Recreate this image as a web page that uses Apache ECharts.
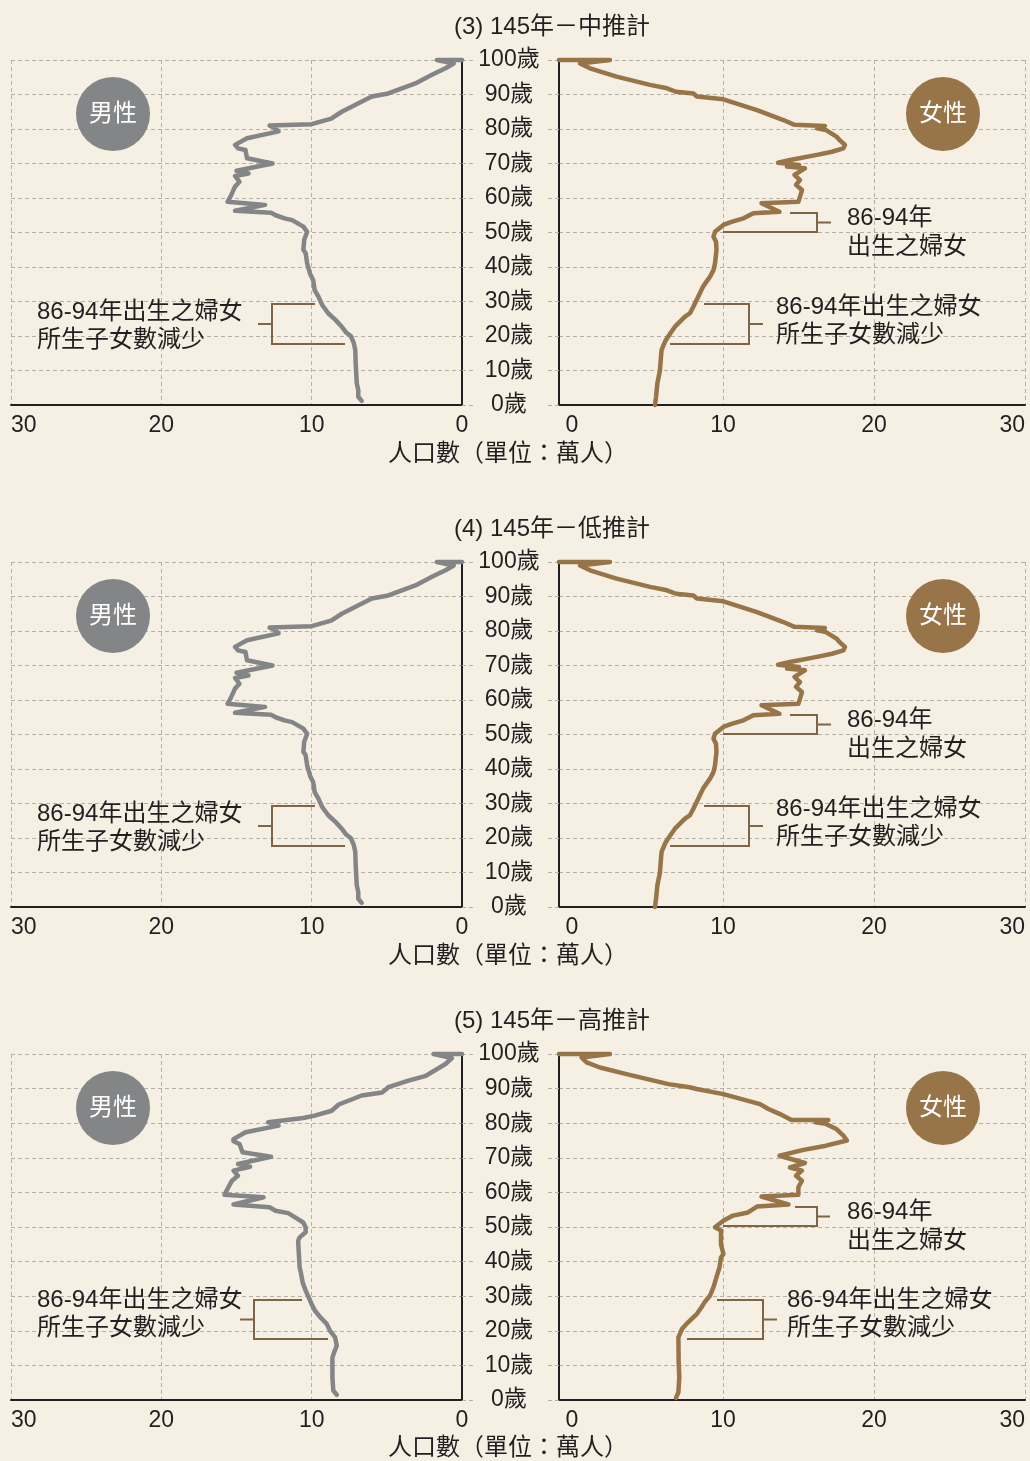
<!DOCTYPE html>
<html>
<head>
<meta charset="utf-8">
<script src="https://cdn.jsdelivr.net/npm/echarts@6/dist/echarts.min.js"></script>
<style>
html, body { margin: 0; padding: 0; background: #f6efe3; }
#chart { width: 1030px; height: 1461px; }
</style>
</head>
<body>
<div id="chart"></div>
<script>
// [age, 萬人], bottom to top
const maleMid = [[1.2,6.67],[2.4,6.9],[4.3,6.9],[6.3,7.0],[12,7.07],[16,7.1],[18,7.2],[20,7.4],[21,7.7],[22.7,8.0],[24.6,8.4],[26.6,8.9],[29,9.3],[31.4,9.55],[33.3,9.8],[36.2,9.9],[38,10.1],[41,10.3],[44,10.4],[45,10.55],[47.8,10.5],[50.2,10.3],[51.7,10.55],[53.6,11.3],[54.1,11.8],[55,12.4],[55.7,12.7],[56.3,15.1],[58,13.1],[58.9,15.6],[60.4,15.4],[63.3,15.1],[64.7,14.8],[66.4,15.1],[67.1,14.2],[67.9,15.0],[70,12.6],[71.5,14.3],[73.9,14.4],[74.4,14.9],[75.4,15.1],[77.3,14.3],[79.3,12.2],[80.5,12.5],[81,12.8],[81.4,10.0],[83,8.7],[85,8.0],[89.4,6.0],[90.3,4.9],[91.8,4.0],[93.2,3.1],[95.7,2.0],[97.6,1.1],[99,0.55],[100,1.67],[100,0]];
const femaleMid = [[0,6.4],[2.4,6.47],[6.3,6.56],[10,6.73],[14,6.8],[16,6.84],[18.4,7.07],[20,7.3],[22.7,7.73],[25.6,8.4],[26.6,8.73],[28.5,8.96],[34.3,9.6],[37.2,10.07],[39.1,10.3],[41,10.4],[44.9,10.5],[47.3,10.47],[48.8,10.3],[50.2,10.4],[52.2,10.96],[53.1,11.5],[54.1,12.3],[55.6,12.96],[56,14.7],[58.5,13.5],[58.9,15.96],[60.4,16.07],[62.3,16.2],[63.8,15.8],[65.2,16.07],[66.7,15.7],[68.6,16.4],[69.1,15.2],[69.6,16.0],[70.2,14.6],[71,15.4],[72.5,17.2],[73.4,18.2],[74.4,18.96],[75.4,19.07],[76.8,18.7],[77.8,18.5],[79.7,17.8],[80.2,17.2],[80.9,17.73],[81.2,15.7],[82.6,14.96],[85.5,13.2],[88.6,10.96],[89.4,9.2],[90.3,8.96],[90.8,7.8],[91.8,7.2],[92.8,6.07],[95.2,3.84],[97.6,2.07],[99,1.4],[100,3.4],[100,0]];
// low projection reads the same as the medium one in the picture
const maleLow = [[1.2,6.67],[2.4,6.9],[4.3,6.9],[6.3,7.0],[12,7.07],[16,7.1],[18,7.2],[20,7.4],[21,7.7],[22.7,8.0],[24.6,8.4],[26.6,8.9],[29,9.3],[31.4,9.55],[33.3,9.8],[36.2,9.9],[38,10.1],[41,10.3],[44,10.4],[45,10.55],[47.8,10.5],[50.2,10.3],[51.7,10.55],[53.6,11.3],[54.1,11.8],[55,12.4],[55.7,12.7],[56.3,15.1],[58,13.1],[58.9,15.6],[60.4,15.4],[63.3,15.1],[64.7,14.8],[66.4,15.1],[67.1,14.2],[67.9,15.0],[70,12.6],[71.5,14.3],[73.9,14.4],[74.4,14.9],[75.4,15.1],[77.3,14.3],[79.3,12.2],[80.5,12.5],[81,12.8],[81.4,10.0],[83,8.7],[85,8.0],[89.4,6.0],[90.3,4.9],[91.8,4.0],[93.2,3.1],[95.7,2.0],[97.6,1.1],[99,0.55],[100,1.67],[100,0]];
const femaleLow = [[0,6.4],[2.4,6.47],[6.3,6.56],[10,6.73],[14,6.8],[16,6.84],[18.4,7.07],[20,7.3],[22.7,7.73],[25.6,8.4],[26.6,8.73],[28.5,8.96],[34.3,9.6],[37.2,10.07],[39.1,10.3],[41,10.4],[44.9,10.5],[47.3,10.47],[48.8,10.3],[50.2,10.4],[52.2,10.96],[53.1,11.5],[54.1,12.3],[55.6,12.96],[56,14.7],[58.5,13.5],[58.9,15.96],[60.4,16.07],[62.3,16.2],[63.8,15.8],[65.2,16.07],[66.7,15.7],[68.6,16.4],[69.1,15.2],[69.6,16.0],[70.2,14.6],[71,15.4],[72.5,17.2],[73.4,18.2],[74.4,18.96],[75.4,19.07],[76.8,18.7],[77.8,18.5],[79.7,17.8],[80.2,17.2],[80.9,17.73],[81.2,15.7],[82.6,14.96],[85.5,13.2],[88.6,10.96],[89.4,9.2],[90.3,8.96],[90.8,7.8],[91.8,7.2],[92.8,6.07],[95.2,3.84],[97.6,2.07],[99,1.4],[100,3.4],[100,0]];
const maleHigh = [[1.5,8.33],[2.7,8.56],[6.5,8.62],[12.3,8.62],[13.8,8.5],[15.7,8.33],[18.1,8.44],[20,8.78],[22,9.0],[24,9.44],[25.8,9.78],[27.7,10.0],[29.7,10.2],[31.6,10.4],[34,10.6],[36.4,10.7],[38.3,10.8],[41.2,10.84],[46,10.9],[47,10.8],[48.5,10.4],[49.9,10.4],[51.3,10.56],[52.8,11.1],[54,11.56],[54.7,12.4],[55.7,12.8],[56.5,15.2],[58.6,13.2],[59.3,15.8],[61,15.6],[63.4,15.3],[64.8,14.9],[66.3,15.2],[67.4,14.1],[68.2,14.9],[70.3,12.7],[71.6,14.6],[74,14.8],[74.8,15.2],[75.4,15.2],[77.4,14.4],[79.3,12.2],[80.3,12.9],[81.5,10.56],[82.2,9.8],[83.6,8.67],[85.4,8.2],[88,6.67],[88.9,5.3],[90.4,4.9],[92.3,3.56],[93.7,2.4],[97.1,1.1],[98.8,0.67],[100,1.9],[100,0]];
const femaleHigh = [[0.6,7.8],[2.2,7.96],[6.6,8.02],[10.4,7.98],[18.1,7.96],[20.5,8.2],[22,8.5],[24.9,9.2],[26.8,9.5],[28.2,9.7],[30.2,10.07],[32.6,10.3],[35.5,10.5],[38.3,10.7],[41.2,10.8],[42.2,10.96],[45,10.8],[49,10.8],[49.9,10.4],[51.8,10.96],[53.3,11.6],[54.2,12.6],[55.9,13.2],[56.5,15.3],[58.8,13.5],[59.3,15.96],[61.5,15.96],[63.4,16.2],[64.8,15.8],[66.3,16.2],[67.2,15.4],[68.5,16.4],[70.6,14.7],[72.3,16.3],[73.5,17.8],[75,19.2],[76.4,18.96],[78.3,18.5],[79.8,17.8],[80.3,17.1],[80.9,17.96],[80.9,15.5],[82.7,14.7],[84.1,13.96],[85.5,13.4],[88.4,10.96],[89.9,9.18],[90.4,8.7],[91.3,7.3],[94.2,4.5],[96.1,2.73],[97.6,1.84],[99,1.5],[100,3.4],[100,0]];

const titles = ['(3) 145年－中推計', '(4) 145年－低推計', '(5) 145年－高推計'];
const noteWomen = ['86-94年', '出生之婦女'];
const noteBirths = ['86-94年出生之婦女', '所生子女數減少'];

const FONT = "'Liberation Sans', 'Noto Sans CJK TC', sans-serif";
const INK = '#231f20';
const GREY = '#838587';
const BROWN = '#977548';
const NOTE = '#7d6545';
const DASH = '#b5b0a8';

const panelTops = [60, 562, 1054];
const panelData = [[maleMid, femaleMid], [maleLow, femaleLow], [maleHigh, femaleHigh]];
// bracket layout in px relative to panel top: high projection sits a little differently
const bracketSets = [
  { m: [258, 272, 315, 345, 37], f2: [670, 704, 749, 763, 776], f1: [723, 790, 817, 831, 847], mText: [252, 280], f2Text: [247, 275], mY: [244, 284] },
  { m: [258, 272, 315, 345, 37], f2: [670, 704, 749, 763, 776], f1: [723, 790, 817, 831, 847], mText: [252, 280], f2Text: [247, 275], mY: [244, 284] },
  { m: [240, 254, 302, 328, 37], f2: [687, 717, 763, 777, 787], f1: [723, 795, 817, 830, 847], mText: [246, 274], f2Text: [246, 274], mY: [246, 285] }
];

const dashed = { color: DASH, width: 1, type: [4, 3] };
const grid = [], xAxis = [], yAxis = [], series = [], graphic = [];

function text(x, y, str, opts) {
  return {
    type: 'text', x: x, y: y, z: 100,
    style: Object.assign({ text: str, fill: INK, fontSize: 24, fontFamily: FONT, verticalAlign: 'middle' }, opts || {})
  };
}
function bracket(xv, y0, y1, xTop, xBot, xTick) {
  const ym = (y0 + y1) / 2;
  graphic.push({ type: 'polyline', z: 100, shape: { points: [[xTop, y0], [xv, y0], [xv, y1], [xBot, y1]] }, style: { stroke: NOTE, lineWidth: 2, fill: null } });
  graphic.push({ type: 'line', z: 100, shape: { x1: xv, y1: ym, x2: xTick, y2: ym }, style: { stroke: NOTE, lineWidth: 2 } });
}

panelData.forEach(function (pair, k) {
  const t = panelTops[k];
  const h = k === 2 ? 346 : 345;
  const gi = grid.length;
  grid.push({ left: 11, top: t, width: 451, height: h },
            { left: 559, top: t, width: 466, height: h },
            { left: 572, top: t, width: 453, height: h });

  xAxis.push({
    gridIndex: gi, type: 'value', min: 0, max: 30, interval: 10, inverse: true,
    axisLine: { lineStyle: { color: INK, width: 2 } },
    axisTick: { show: false },
    axisLabel: { color: INK, fontSize: 23, fontFamily: FONT, margin: 9, alignMaxLabel: 'left' },
    splitLine: { show: true, lineStyle: dashed }
  }, {
    gridIndex: gi + 1, type: 'value', min: 0, max: 31.07,
    axisLine: { lineStyle: { color: INK, width: 2 } },
    axisTick: { show: false }, axisLabel: { show: false }, splitLine: { show: false }
  }, {
    gridIndex: gi + 2, type: 'value', min: 0, max: 30, interval: 10,
    axisLine: { show: false }, axisTick: { show: false },
    axisLabel: { color: INK, fontSize: 23, fontFamily: FONT, margin: 9, alignMaxLabel: 'right' },
    splitLine: { show: true, showMinLine: false, lineStyle: dashed }
  });

  yAxis.push({
    gridIndex: gi, type: 'value', position: 'right', min: 0, max: 100, interval: 10,
    axisLine: { show: true, lineStyle: { color: INK, width: 2 } },
    axisTick: { show: true, length: 11, lineStyle: dashed },
    axisLabel: { formatter: '{value}歲', color: INK, fontSize: 23, fontFamily: FONT, margin: 47, align: 'center' },
    splitLine: { show: true, lineStyle: dashed }
  }, {
    gridIndex: gi + 1, type: 'value', position: 'left', min: 0, max: 100, interval: 10,
    axisLine: { show: true, lineStyle: { color: INK, width: 2 } },
    axisTick: { show: true, length: 14, lineStyle: dashed },
    axisLabel: { show: false },
    splitLine: { show: true, lineStyle: dashed }
  }, {
    gridIndex: gi + 2, type: 'value', min: 0, max: 100, show: false
  });

  series.push({
    type: 'line', name: '男性', xAxisIndex: gi, yAxisIndex: gi, clip: false,
    data: pair[0].map(function (d) { return [d[1], d[0]]; }),
    symbol: 'none', silent: true, z: 5,
    lineStyle: { color: GREY, width: 4.5, join: 'round', cap: 'round' }
  }, {
    type: 'line', name: '女性', xAxisIndex: gi + 1, yAxisIndex: gi + 1, clip: false,
    data: pair[1].map(function (d) { return [d[1], d[0]]; }),
    symbol: 'none', silent: true, z: 5,
    lineStyle: { color: BROWN, width: 4.5, join: 'round', cap: 'round' }
  });

  // titles, labels, badges
  graphic.push(text(454, t - 33, titles[k], { fontSize: 24 }));
  graphic.push(text(508, t + 394, '人口數（單位：萬人）', { fontSize: 24, align: 'center' }));
  graphic.push({ type: 'circle', z: 100, shape: { cx: 113, cy: t + 54, r: 37 }, style: { fill: GREY } });
  graphic.push(text(113, t + 54, '男性', { fill: '#fff', align: 'center' }));
  graphic.push({ type: 'circle', z: 100, shape: { cx: 943, cy: t + 54, r: 37 }, style: { fill: BROWN } });
  graphic.push(text(943, t + 54, '女性', { fill: '#fff', align: 'center' }));

  const b = bracketSets[k];
  // male side
  bracket(b.m[1], t + b.mY[0], t + b.mY[1], b.m[2], b.m[3], b.m[0]);
  graphic.push(text(b.m[4], t + b.mText[0], noteBirths[0]));
  graphic.push(text(b.m[4], t + b.mText[1], noteBirths[1]));
  // female: women born 86-94
  bracket(b.f1[2], t + 153, t + 172, b.f1[1], b.f1[0], b.f1[3]);
  graphic.push(text(b.f1[4], t + 158, noteWomen[0]));
  graphic.push(text(b.f1[4], t + 187, noteWomen[1]));
  // female: fewer births
  bracket(b.f2[2], t + b.mY[0], t + b.mY[1], b.f2[1], b.f2[0], b.f2[3]);
  graphic.push(text(b.f2[4], t + b.f2Text[0], noteBirths[0]));
  graphic.push(text(b.f2[4], t + b.f2Text[1], noteBirths[1]));
});

const chart = echarts.init(document.getElementById('chart'), null, { renderer: 'canvas' });
chart.setOption({
  backgroundColor: '#f6efe3',
  animation: false,
  textStyle: { fontFamily: FONT },
  grid: grid,
  xAxis: xAxis,
  yAxis: yAxis,
  series: series,
  graphic: graphic
});
</script>
</body>
</html>
